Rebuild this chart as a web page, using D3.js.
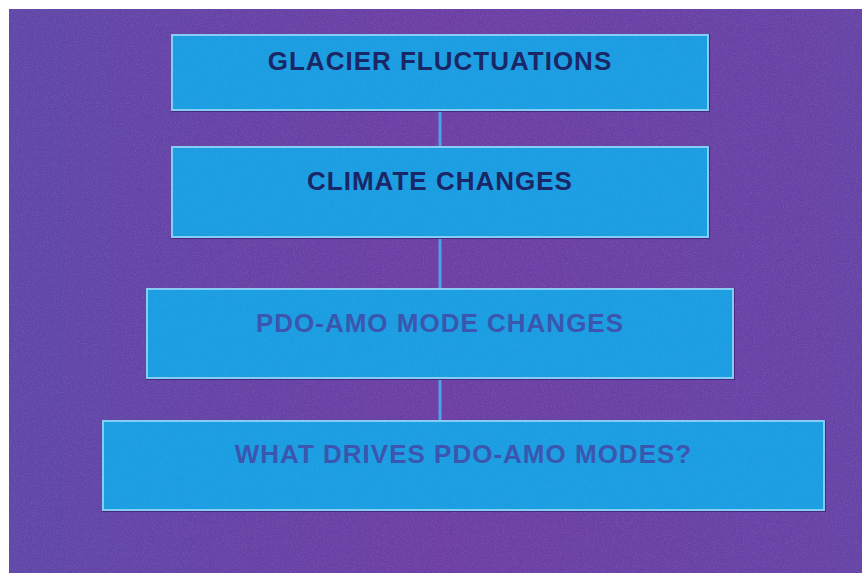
<!DOCTYPE html>
<html>
<head>
<meta charset="utf-8">
<script src="https://cdn.jsdelivr.net/npm/d3@7"></script>
<style>
  html, body { margin: 0; padding: 0; background: #ffffff; }
  svg { display: block; }
</style>
</head>
<body>
<script>
(function(){
  var canvasWidth = 862;
  var canvasHeight = 573;

  // chart content
  var steps = ["GLACIER FLUCTUATIONS", "CLIMATE CHANGES", "PDO-AMO MODE CHANGES", "WHAT DRIVES PDO-AMO MODES?"];
  var textColors = ["#1a2766", "#1a2766", "#3b56ae", "#3b56ae"];

  // layout (pixels)
  var boxLeft   = [172, 172, 147, 103];
  var boxRight  = [708, 708, 733, 824];
  var boxTop    = [35, 147, 289, 421];
  var boxBottom = [110, 237, 378, 510];
  var textBase  = [70, 190, 332, 463];
  var connectorX = 440;

  var svg = d3.select("body").append("svg")
    .attr("width", canvasWidth)
    .attr("height", canvasHeight);

  var defs = svg.append("defs");

  var speckle = defs.append("filter").attr("id", "speckle")
    .attr("x", 0).attr("y", 0).attr("width", "100%").attr("height", "100%");
  speckle.append("feTurbulence")
    .attr("type", "fractalNoise")
    .attr("baseFrequency", 0.9)
    .attr("numOctaves", 2)
    .attr("seed", 7)
    .attr("result", "noise");
  speckle.append("feColorMatrix")
    .attr("in", "noise")
    .attr("type", "matrix")
    .attr("values", "0 0 0 0 1  0 0 0 0 1  0 0 0 0 1  0 0 0 -2.2 1.25");

  var bgGrad = defs.append("linearGradient").attr("id", "bgGrad")
    .attr("x1", 0).attr("y1", 0).attr("x2", 1).attr("y2", 0);
  bgGrad.append("stop").attr("offset", 0).attr("stop-color", "#5f47a8");
  bgGrad.append("stop").attr("offset", 0.5).attr("stop-color", "#6c3ea4");
  bgGrad.append("stop").attr("offset", 1).attr("stop-color", "#6643a6");

  // background panel
  svg.append("rect")
    .attr("x", 9).attr("y", 9)
    .attr("width", canvasWidth - 9)
    .attr("height", canvasHeight - 9)
    .attr("fill", "url(#bgGrad)");

  svg.append("rect")
    .attr("x", 9).attr("y", 9)
    .attr("width", canvasWidth - 9)
    .attr("height", canvasHeight - 9)
    .attr("fill", "#ffffff")
    .attr("opacity", 0.10)
    .attr("filter", "url(#speckle)");

  // connectors between boxes
  for (var i = 0; i < steps.length - 1; i++) {
    svg.append("line")
      .attr("x1", connectorX).attr("x2", connectorX)
      .attr("y1", boxBottom[i]).attr("y2", boxTop[i + 1])
      .attr("stroke", "#4aa3e4")
      .attr("stroke-width", 3);
  }

  var boxes = svg.selectAll("g.step")
    .data(steps)
    .enter().append("g")
    .attr("class", "step");

  // dark shadow edge round each box
  boxes.append("rect")
    .attr("x", (d, i) => boxLeft[i] - 1)
    .attr("y", (d, i) => boxTop[i] - 1)
    .attr("width", (d, i) => boxRight[i] - boxLeft[i] + 3)
    .attr("height", (d, i) => boxBottom[i] - boxTop[i] + 3)
    .attr("fill", "#4a2a80");

  boxes.append("rect")
    .attr("x", (d, i) => boxLeft[i])
    .attr("y", (d, i) => boxTop[i])
    .attr("width", (d, i) => boxRight[i] - boxLeft[i])
    .attr("height", (d, i) => boxBottom[i] - boxTop[i])
    .attr("fill", "#1b9de2")
    .attr("stroke", "#86cdf3")
    .attr("stroke-width", 2);

  boxes.append("rect")
    .attr("x", (d, i) => boxLeft[i] + 1)
    .attr("y", (d, i) => boxTop[i] + 1)
    .attr("width", (d, i) => boxRight[i] - boxLeft[i] - 2)
    .attr("height", (d, i) => boxBottom[i] - boxTop[i] - 2)
    .attr("fill", "#ffffff")
    .attr("opacity", 0.06)
    .attr("filter", "url(#speckle)");

  boxes.append("text")
    .attr("x", (d, i) => (boxLeft[i] + boxRight[i]) / 2)
    .attr("y", (d, i) => textBase[i])
    .attr("text-anchor", "middle")
    .attr("font-family", "'Liberation Sans', Arial, sans-serif")
    .attr("font-weight", "bold")
    .attr("font-size", 26)
    .attr("letter-spacing", 1)
    .attr("fill", (d, i) => textColors[i])
    .text(d => d);
})();
</script>
</body>
</html>
